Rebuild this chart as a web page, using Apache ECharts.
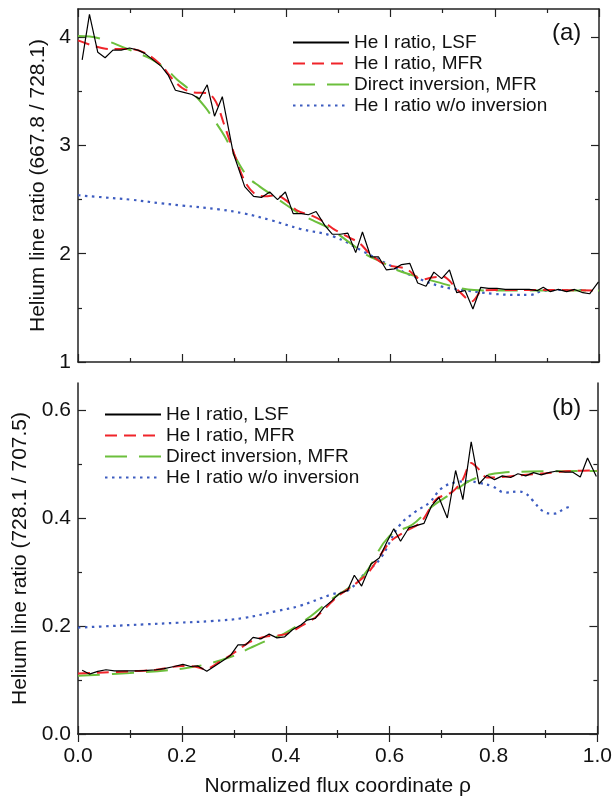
<!DOCTYPE html>
<html>
<head>
<meta charset="utf-8">
<script src="https://cdn.jsdelivr.net/npm/echarts@6/dist/echarts.min.js"></script>
<style>
  html, body { margin: 0; padding: 0; background: #fff; }
  #chart { width: 615px; height: 798px; }
</style>
</head>
<body>
<div id="chart"></div>
<script>
  // ---- panel (a): He I 667.8 / 728.1 ----
  const lsfRhoA = [0.008, 0.022, 0.038, 0.052, 0.067, 0.083, 0.099, 0.115, 0.128, 0.144, 0.160, 0.173, 0.187, 0.203, 0.219, 0.233, 0.248, 0.262, 0.277, 0.298, 0.320, 0.337, 0.352, 0.368, 0.383, 0.398, 0.413, 0.429, 0.442, 0.457, 0.474, 0.488, 0.503, 0.518, 0.533, 0.546, 0.562, 0.577, 0.592, 0.607, 0.621, 0.637, 0.652, 0.668, 0.683, 0.698, 0.713, 0.727, 0.743, 0.758, 0.773, 0.788, 0.804, 0.820, 0.835, 0.851, 0.866, 0.882, 0.893, 0.906, 0.922, 0.938, 0.953, 0.969, 0.982, 0.999]
  const lsfA = [3.79, 4.21, 3.86, 3.81, 3.88, 3.88, 3.90, 3.88, 3.85, 3.79, 3.73, 3.65, 3.51, 3.49, 3.47, 3.43, 3.56, 3.27, 3.45, 2.93, 2.62, 2.53, 2.52, 2.57, 2.50, 2.57, 2.37, 2.37, 2.36, 2.39, 2.26, 2.18, 2.18, 2.19, 2.01, 2.20, 1.97, 1.97, 1.85, 1.86, 1.90, 1.91, 1.73, 1.70, 1.83, 1.77, 1.85, 1.64, 1.66, 1.49, 1.69, 1.68, 1.68, 1.67, 1.67, 1.67, 1.67, 1.66, 1.69, 1.65, 1.67, 1.65, 1.67, 1.64, 1.63, 1.74]

  const mfrRhoA = [0.0, 0.03, 0.06, 0.10, 0.13, 0.16, 0.18, 0.20, 0.22, 0.25, 0.265, 0.28, 0.30, 0.32, 0.34, 0.36, 0.38, 0.40, 0.42, 0.45, 0.47, 0.49, 0.52, 0.54, 0.56, 0.59, 0.63, 0.66, 0.68, 0.70, 0.73, 0.756, 0.776, 0.80, 0.90, 1.0]
  const mfrA = [3.97, 3.92, 3.89, 3.89, 3.85, 3.74, 3.62, 3.53, 3.49, 3.48, 3.40, 3.20, 2.92, 2.67, 2.55, 2.53, 2.54, 2.49, 2.40, 2.35, 2.30, 2.23, 2.15, 2.10, 2.00, 1.90, 1.86, 1.76, 1.78, 1.79, 1.66, 1.56, 1.66, 1.665, 1.665, 1.66]

  const invRhoA = [0.0, 0.04, 0.09, 0.115, 0.14, 0.17, 0.19, 0.217, 0.243, 0.262, 0.282, 0.301, 0.326, 0.349, 0.37, 0.40, 0.425, 0.45, 0.484, 0.522, 0.554, 0.58, 0.612, 0.65, 0.688, 0.727, 0.76, 0.80, 1.0]
  const invA = [4.01, 3.99, 3.90, 3.85, 3.80, 3.70, 3.61, 3.50, 3.36, 3.23, 3.08, 2.90, 2.71, 2.62, 2.55, 2.45, 2.37, 2.31, 2.23, 2.10, 1.99, 1.93, 1.85, 1.79, 1.74, 1.69, 1.665, 1.66, 1.66]

  const rawRhoA = [0.0, 0.05, 0.10, 0.16, 0.20, 0.27, 0.32, 0.37, 0.426, 0.49, 0.548, 0.596, 0.644, 0.695, 0.746, 0.797, 0.842, 0.868, 0.887, 0.92, 0.97]
  const rawA = [2.54, 2.52, 2.50, 2.465, 2.445, 2.41, 2.37, 2.31, 2.23, 2.16, 2.02, 1.90, 1.79, 1.70, 1.66, 1.63, 1.62, 1.62, 1.65, 1.665, 1.665]

  // ---- panel (b): He I 728.1 / 707.5 ----
  const lsfRhoB = [0.008, 0.022, 0.038, 0.054, 0.070, 0.086, 0.102, 0.118, 0.134, 0.150, 0.166, 0.185, 0.202, 0.217, 0.231, 0.248, 0.262, 0.278, 0.294, 0.308, 0.323, 0.337, 0.352, 0.368, 0.383, 0.398, 0.413, 0.429, 0.441, 0.457, 0.473, 0.488, 0.503, 0.519, 0.532, 0.546, 0.564, 0.580, 0.594, 0.608, 0.621, 0.637, 0.651, 0.666, 0.681, 0.695, 0.711, 0.727, 0.741, 0.757, 0.772, 0.787, 0.802, 0.817, 0.833, 0.847, 0.862, 0.877, 0.892, 0.906, 0.922, 0.938, 0.952, 0.967, 0.981, 0.998]
  const lsfB = [0.118, 0.111, 0.116, 0.119, 0.117, 0.117, 0.117, 0.117, 0.118, 0.119, 0.121, 0.125, 0.129, 0.125, 0.126, 0.116, 0.125, 0.135, 0.146, 0.165, 0.165, 0.179, 0.176, 0.185, 0.178, 0.180, 0.193, 0.202, 0.211, 0.214, 0.234, 0.246, 0.260, 0.266, 0.294, 0.274, 0.315, 0.326, 0.354, 0.380, 0.357, 0.382, 0.386, 0.390, 0.423, 0.438, 0.400, 0.488, 0.434, 0.541, 0.463, 0.479, 0.471, 0.478, 0.475, 0.482, 0.478, 0.484, 0.480, 0.484, 0.487, 0.485, 0.485, 0.476, 0.511, 0.477]

  const mfrRhoB = [0.0, 0.05, 0.10, 0.15, 0.20, 0.225, 0.245, 0.27, 0.30, 0.33, 0.36, 0.40, 0.43, 0.46, 0.50, 0.53, 0.56, 0.60, 0.63, 0.66, 0.69, 0.72, 0.74, 0.757, 0.772, 0.787, 0.80, 0.85, 0.90, 0.95, 1.0]
  const mfrB = [0.112, 0.114, 0.116, 0.119, 0.126, 0.125, 0.120, 0.132, 0.150, 0.170, 0.180, 0.185, 0.200, 0.218, 0.255, 0.275, 0.300, 0.355, 0.375, 0.392, 0.435, 0.448, 0.470, 0.502, 0.490, 0.475, 0.475, 0.479, 0.483, 0.487, 0.488]

  const invRhoB = [0.0, 0.10, 0.20, 0.25, 0.30, 0.333, 0.368, 0.397, 0.448, 0.486, 0.52, 0.551, 0.599, 0.644, 0.68, 0.72, 0.752, 0.79, 0.816, 0.87, 1.0]
  const invB = [0.108, 0.113, 0.121, 0.130, 0.145, 0.160, 0.175, 0.186, 0.218, 0.248, 0.270, 0.295, 0.366, 0.388, 0.420, 0.446, 0.468, 0.480, 0.484, 0.486, 0.487]

  const rawRhoB = [0.0, 0.064, 0.128, 0.192, 0.256, 0.32, 0.384, 0.426, 0.49, 0.52, 0.553, 0.583, 0.618, 0.65, 0.676, 0.70, 0.727, 0.753, 0.772, 0.797, 0.823, 0.848, 0.861, 0.874, 0.896, 0.916, 0.938, 0.947]
  const rawB = [0.197, 0.200, 0.203, 0.206, 0.209, 0.215, 0.228, 0.237, 0.259, 0.266, 0.298, 0.326, 0.385, 0.412, 0.428, 0.455, 0.466, 0.468, 0.465, 0.459, 0.447, 0.449, 0.446, 0.434, 0.412, 0.408, 0.418, 0.421]

  const yTicksA = [1, 2, 3, 4]
  const yMinorA = [1.5, 2.5, 3.5]
  const yTicksB = [0, 0.2, 0.4, 0.6]
  const yMinorB = [0.1, 0.3, 0.5]

  const names = ['He I ratio, LSF', 'He I ratio, MFR', 'Direct inversion, MFR', 'He I ratio w/o inversion']

  const pair = (xs, ys) => xs.map((x, i) => [x, ys[i]])

  const frame = { show: true, lineStyle: { color: '#222', width: 1.5 } }
  const font = 'Liberation Sans, Arial, Helvetica, sans-serif'

  function xAxis(grid, position, labels, name) {
    return {
      type: 'value', gridIndex: grid, position: position,
      min: 0, max: 1, interval: 0.2,
      axisLine: frame,
      axisTick: { inside: true, length: 8, lineStyle: { color: '#222', width: 1.2 } },
      minorTick: { show: true, splitNumber: 2, length: 4, lineStyle: { color: '#222', width: 1.2 } },
      axisLabel: { show: labels, fontSize: 21, color: '#111', margin: 12, fontFamily: font,
        formatter: v => v.toFixed(1) },
      splitLine: { show: false },
      name: name || '', nameLocation: 'middle', nameGap: 42,
      nameTextStyle: { fontSize: 21, color: '#111', fontFamily: font }
    }
  }

  function yMajor(grid, position, min, max, ticks, labels, digits, name) {
    return {
      type: 'value', gridIndex: grid, position: position, min: min, max: max,
      axisLine: frame,
      axisTick: { inside: true, length: 8, customValues: ticks, lineStyle: { color: '#222', width: 1.2 } },
      axisLabel: { show: labels, customValues: ticks, fontSize: 21, color: '#111', margin: 7, fontFamily: font,
        formatter: v => v.toFixed(digits) },
      splitLine: { show: false },
      name: name || '', nameLocation: 'middle', nameGap: 29,
      nameTextStyle: { fontSize: 21, color: '#111', fontFamily: font }
    }
  }

  function yMinor(grid, position, min, max, ticks) {
    return {
      type: 'value', gridIndex: grid, position: position, min: min, max: max,
      axisLine: { show: false },
      axisTick: { inside: true, length: 4, customValues: ticks, lineStyle: { color: '#222', width: 1.2 } },
      axisLabel: { show: false },
      splitLine: { show: false }
    }
  }

  function line(name, data, xi, yi, style, smooth, z) {
    return {
      name: name, type: 'line', data: data, xAxisIndex: xi, yAxisIndex: yi,
      symbol: 'none', showSymbol: false, smooth: smooth, z: z,
      itemStyle: { color: style.color },
      lineStyle: style, emphasis: { disabled: true }, silent: true
    }
  }

  const styleLsf = { color: '#000', width: 1.2, type: 'solid' }
  const styleMfr = { color: '#f0242a', width: 2, type: [12, 7] }
  const styleInv = { color: '#6cbf3c', width: 2, type: [22, 12] }
  const styleRaw = { color: '#3d5cc0', width: 2.2, type: [2.5, 4.5] }

  function panel(xi, yi, lsf, mfr, inv, raw) {
    return [
      line(names[3], raw, xi, yi, styleRaw, 0.4, 2),
      line(names[2], inv, xi, yi, styleInv, 0.4, 3),
      line(names[1], mfr, xi, yi, styleMfr, 0.3, 4),
      line(names[0], lsf, xi, yi, styleLsf, false, 5)
    ]
  }

  function legend(left, top) {
    return {
      data: names, orient: 'vertical', left: left, top: top, padding: 0,
      itemWidth: 56, itemHeight: 14, itemGap: 0, selectedMode: false,
      itemStyle: { opacity: 0 },
      textStyle: { fontSize: 19, color: '#111', lineHeight: 21, fontFamily: font }
    }
  }

  const chart = echarts.init(document.getElementById('chart'))

  chart.setOption({
    animation: false,
    textStyle: { fontFamily: font },
    title: [
      { text: '(a)', left: 552, top: 21, padding: 0, textStyle: { fontSize: 24, fontWeight: 'normal', color: '#111', fontFamily: font } },
      { text: '(b)', left: 552, top: 396, padding: 0, textStyle: { fontSize: 24, fontWeight: 'normal', color: '#111', fontFamily: font } }
    ],
    legend: [legend(292, 32), legend(104, 404)],
    grid: [
      { left: 78, top: 9, width: 521, height: 353 },
      { left: 78, top: 383, width: 521, height: 352 }
    ],
    xAxis: [
      xAxis(0, 'bottom', false),
      xAxis(0, 'top', false),
      xAxis(1, 'bottom', true, 'Normalized flux coordinate ρ'),
      xAxis(1, 'top', false)
    ],
    yAxis: [
      yMajor(0, 'left', 1, 4.26, yTicksA, true, 0, 'Helium line ratio (667.8 / 728.1)'),
      yMinor(0, 'left', 1, 4.26, yMinorA),
      yMajor(0, 'right', 1, 4.26, yTicksA, false, 0),
      yMinor(0, 'right', 1, 4.26, yMinorA),
      yMajor(1, 'left', 0, 0.65, yTicksB, true, 1, 'Helium line ratio (728.1 / 707.5)'),
      yMinor(1, 'left', 0, 0.65, yMinorB),
      yMajor(1, 'right', 0, 0.65, yTicksB, false, 1),
      yMinor(1, 'right', 0, 0.65, yMinorB)
    ],
    series: [
      ...panel(0, 0, pair(lsfRhoA, lsfA), pair(mfrRhoA, mfrA), pair(invRhoA, invA), pair(rawRhoA, rawA)),
      ...panel(2, 4, pair(lsfRhoB, lsfB), pair(mfrRhoB, mfrB), pair(invRhoB, invB), pair(rawRhoB, rawB))
    ]
  })
</script>
</body>
</html>
